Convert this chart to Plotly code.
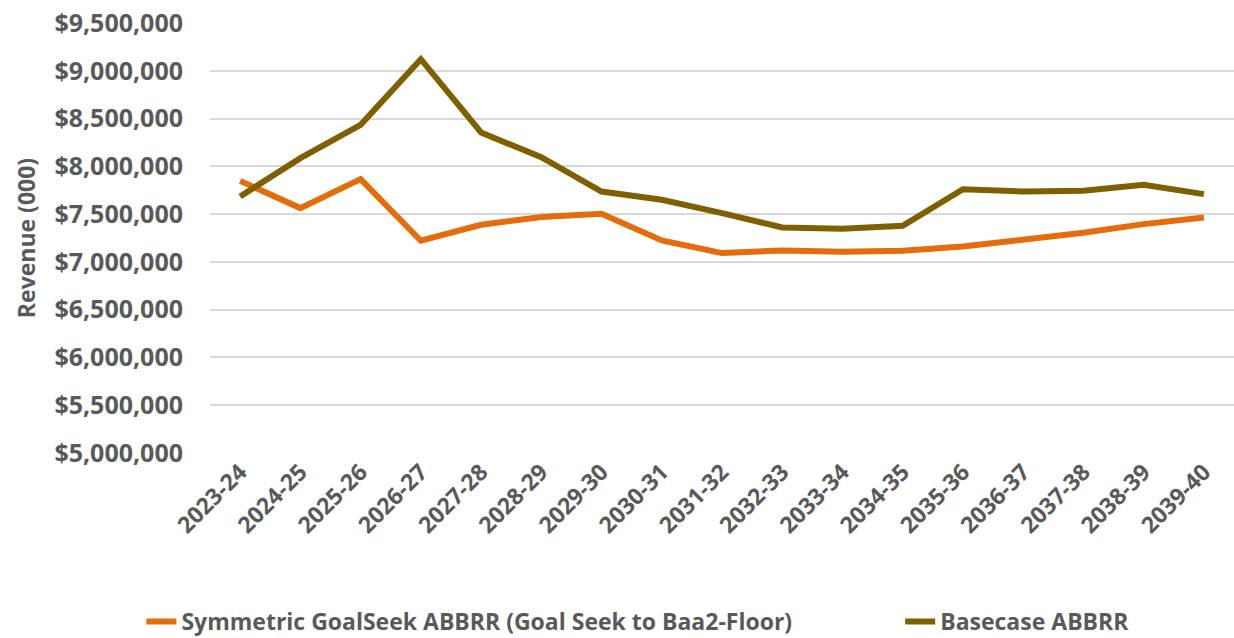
import plotly.graph_objects as go

years = ["2023-24", "2024-25", "2025-26", "2026-27", "2027-28", "2028-29", "2029-30",
         "2030-31", "2031-32", "2032-33", "2033-34", "2034-35", "2035-36", "2036-37",
         "2037-38", "2038-39", "2039-40"]

symmetric = [7848000, 7563000, 7866000, 7221000, 7388000, 7469000, 7503000,
             7224000, 7092000, 7120000, 7106000, 7116000, 7160000, 7230000,
             7305000, 7395000, 7465000]

basecase = [7684000, 8086000, 8434000, 9121000, 8354000, 8095000, 7736000,
            7650000, 7510000, 7360000, 7346000, 7378000, 7760000, 7736000,
            7744000, 7806000, 7709000]

y_ticks = [5000000, 5500000, 6000000, 6500000, 7000000, 7500000, 8000000,
           8500000, 9000000, 9500000]

series_names = ["Symmetric GoalSeek ABBRR (Goal Seek to Baa2-Floor)", "Basecase ABBRR"]
colors = ["#E46C0A", "#7F6000"]

FONT = "Open Sans"
TXT = "#595959"

def f(size):
    return dict(family=FONT, size=size, color=TXT, weight="bold")

fig = go.Figure()
legends = ["legend", "legend2"]
for name, vals, col, lg in zip(series_names, [symmetric, basecase], colors, legends):
    fig.add_trace(go.Scatter(x=years, y=vals, mode="lines", name=name, legend=lg,
                             line=dict(color=col, width=6)))

fig.update_layout(
    width=1234, height=638,
    margin=dict(l=210, r=0, t=23, b=185, autoexpand=False),
    paper_bgcolor="white", plot_bgcolor="white",
    font=f(23),
    showlegend=True,
    legend=dict(orientation="h", x=-0.067, y=-0.392, xanchor="left", yanchor="middle",
                font=f(23), bgcolor="rgba(0,0,0,0)"),
    legend2=dict(orientation="h", x=0.674, y=-0.392, xanchor="left", yanchor="middle",
                 font=f(23), bgcolor="rgba(0,0,0,0)"),
)
fig.update_xaxes(type="category", range=[-0.5, 16.5], tickangle=-45, automargin=False,
                 showgrid=False, showline=False, ticks="", tickfont=f(23))
fig.update_yaxes(range=[5000000, 9500000], tickvals=y_ticks, automargin=False,
                 ticktext=[f"${v:,.0f}" for v in y_ticks],
                 showgrid=True, gridcolor="#D9D9D9", gridwidth=1.5,
                 zeroline=False, showline=False, ticks="", ticklabelstandoff=26,
                 tickfont=f(25),
                 title=dict(text="Revenue (000)", standoff=12, font=f(23)))

fig.write_html("out.html")
